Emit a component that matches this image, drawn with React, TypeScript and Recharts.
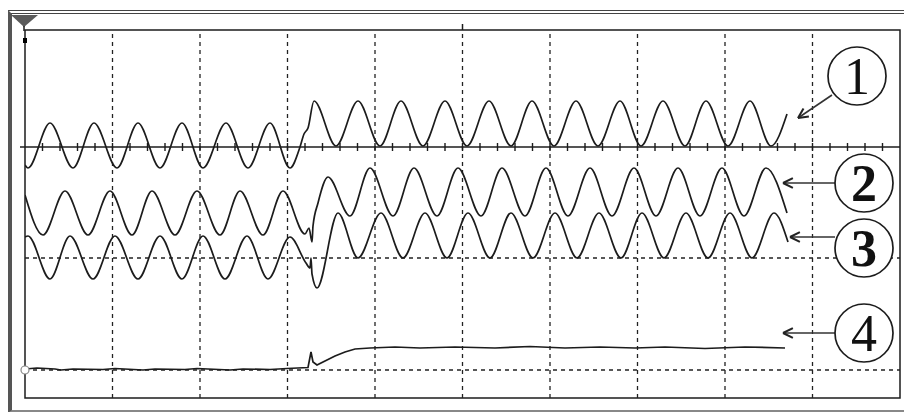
import {
  ComposedChart,
  Line,
  XAxis,
  YAxis,
  ReferenceLine,
  ReferenceArea,
  ReferenceDot,
} from "recharts";

// time axis in samples, amplitude in screen units above the bottom edge
const tMax = 875;
const yMax = 368;

// channel 1: current before and after the fault
const ch1: [number, number][] = [
  [0, 233], [3, 230], [25, 275], [48, 230], [69, 275], [92, 230], [113, 275],
  [135, 230], [157, 275], [178, 230], [201, 275], [223, 230], [245, 275],
  [265, 230], [275, 251], [279, 264], [283, 270], [289, 297], [311, 252],
  [333, 297], [355, 252], [376, 297], [398, 252], [420, 297], [442, 252],
  [464, 297], [486, 252], [507, 297], [529, 252], [551, 297], [573, 252],
  [595, 297], [616, 252], [638, 297], [660, 252], [681, 297], [703, 252],
  [725, 297], [746, 252], [762, 284],
];

// channel 2
const ch2: [number, number][] = [
  [0, 203], [18, 163], [40, 207], [63, 163], [85, 207], [107, 163], [127, 207],
  [150, 163], [172, 207], [195, 163], [215, 207], [238, 163], [258, 207],
  [280, 164], [284, 170], [287, 156], [288, 172], [293, 195], [303, 221],
  [325, 182], [345, 230], [368, 182], [389, 230], [412, 182], [433, 230],
  [456, 182], [477, 230], [500, 182], [521, 230], [543, 182], [565, 230],
  [587, 182], [609, 230], [631, 182], [653, 230], [675, 182], [697, 230],
  [719, 182], [741, 230], [762, 185],
];

// channel 3
const ch3: [number, number][] = [
  [0, 161], [3, 162], [25, 119], [45, 162], [68, 119], [90, 162], [113, 119],
  [135, 162], [157, 119], [178, 162], [200, 119], [222, 162], [243, 119],
  [265, 161], [281, 135], [285, 130], [286, 140], [287, 124], [292, 110],
  [313, 185], [333, 140], [356, 185], [378, 140], [400, 185], [422, 140],
  [443, 185], [465, 140], [486, 185], [508, 140], [530, 185], [552, 140],
  [574, 185], [596, 140], [617, 185], [639, 140], [661, 185], [683, 140],
  [705, 185], [727, 140], [749, 185], [763, 156],
];

// channel 4: slow quantity with a step
const ch4: [number, number][] = [
  [0, 29], [12, 30], [30, 29], [36, 28], [48, 29], [78, 28.5], [90, 29.5],
  [118, 28], [130, 29], [160, 28.5], [172, 29.5], [205, 28], [218, 29],
  [245, 28.5], [262, 29.5], [283, 30.5], [286, 46], [288, 36], [292, 33],
  [300, 37], [310, 42], [320, 46], [330, 49], [345, 50], [370, 51], [395, 50],
  [430, 51], [470, 50], [505, 51.5], [540, 50], [575, 51], [610, 50],
  [640, 51], [680, 49.5], [720, 51], [760, 50],
];

const gridT = [87.5, 175, 262.5, 350, 437.5, 525, 612.5, 700, 787.5];
const gridY = [28, 140];
const axisY = 251;
const minorT = Array.from({ length: 49 }, (_, i) => (i + 1) * 17.5);

// circled channel labels and their arrows
const labels = ["1", "2", "3", "4"];
const labelWeight = ["normal", "bold", "bold", "normal"];
const labelT = [832, 839, 839, 839];
const labelY = [322, 215, 150, 65];
const arrowTail: [number, number][] = [[807, 303], [810, 215], [810, 161], [810, 65]];
const arrowTip: [number, number][] = [[773, 280], [758, 215], [765, 161], [758, 65]];

const rows = (pts: [number, number][]) => pts.map(([t, v]) => ({ t, v }));

const ink = "#1c1c1c";

function headSegments(tail: [number, number], tip: [number, number]) {
  const dx = tail[0] - tip[0];
  const dy = tail[1] - tip[1];
  const len = Math.hypot(dx, dy);
  const ux = dx / len;
  const uy = dy / len;
  const a = (26 * Math.PI) / 180;
  const L = 11;
  return [a, -a].map((r) => {
    const cx = ux * Math.cos(r) - uy * Math.sin(r);
    const cy = ux * Math.sin(r) + uy * Math.cos(r);
    return [
      { x: tip[0], y: tip[1] },
      { x: tip[0] + cx * L, y: tip[1] + cy * L },
    ];
  });
}

export default function App() {
  return (
    <div style={{ position: "absolute", left: 0, top: 0, width: 904, height: 412, background: "#fff" }}>
      <div
        style={{
          position: "absolute",
          left: 8,
          top: 10,
          width: 910,
          height: 396,
          borderTop: "4px double #444",
          borderLeft: "4px solid #555",
          borderBottom: "3px solid #888",
        }}
      />
      <svg style={{ position: "absolute", left: 0, top: 0 }} width={904} height={412}>
        <polygon points="11,15 38,15 24,27" fill="#5a5a5a" />
        <line x1={24} y1={26} x2={24} y2={31} stroke={ink} strokeWidth={1.5} />
      </svg>
      <div style={{ position: "absolute", left: 0, top: 0 }}>
        <ComposedChart width={904} height={412} margin={{ top: 30, right: 4, bottom: 14, left: 25 }}>
          <XAxis dataKey="t" type="number" domain={[0, tMax]} allowDataOverflow hide />
          <YAxis type="number" domain={[0, yMax]} allowDataOverflow hide />

          {gridT.map((t) => (
            <ReferenceLine key={"gx" + t} x={t} stroke="#222" strokeWidth={1.3} strokeDasharray="4 4" />
          ))}
          {gridY.map((y) => (
            <ReferenceLine key={"gy" + y} y={y} stroke="#222" strokeWidth={1.3} strokeDasharray="4 4" />
          ))}
          <ReferenceArea x1={0} x2={tMax} y1={0} y2={yMax} fill="none" stroke={ink} strokeWidth={1.5} ifOverflow="visible" />
          <ReferenceLine
            segment={[{ x: -5, y: axisY }, { x: tMax, y: axisY }]}
            stroke={ink}
            strokeWidth={1.6}
            ifOverflow="visible"
          />
          {minorT.map((t) => (
            <ReferenceLine
              key={"mt" + t}
              segment={[{ x: t, y: axisY - 4 }, { x: t, y: axisY + 4 }]}
              stroke={ink}
              strokeWidth={1.4}
              ifOverflow="visible"
            />
          ))}
          <ReferenceLine
            segment={[{ x: tMax / 2, y: yMax }, { x: tMax / 2, y: yMax + 6 }]}
            stroke={ink}
            strokeWidth={1.5}
            ifOverflow="visible"
          />
          <ReferenceLine
            segment={[{ x: 0, y: yMax - 8 }, { x: 0, y: yMax - 13 }]}
            stroke="#000"
            strokeWidth={4}
            ifOverflow="visible"
          />
          <ReferenceDot x={0} y={gridY[0]} r={4} fill="#fff" stroke="#888" strokeWidth={1.2} ifOverflow="visible" />

          <Line data={rows(ch1)} dataKey="v" type="monotone" stroke={ink} strokeWidth={1.7} dot={false} isAnimationActive={false} />
          <Line data={rows(ch2)} dataKey="v" type="monotone" stroke={ink} strokeWidth={1.7} dot={false} isAnimationActive={false} />
          <Line data={rows(ch3)} dataKey="v" type="monotone" stroke={ink} strokeWidth={1.7} dot={false} isAnimationActive={false} />
          <Line data={rows(ch4)} dataKey="v" type="linear" stroke={ink} strokeWidth={1.7} dot={false} isAnimationActive={false} />

          {labels.map((lab, i) => (
            <ReferenceLine
              key={"as" + lab}
              segment={[
                { x: arrowTail[i][0], y: arrowTail[i][1] },
                { x: arrowTip[i][0], y: arrowTip[i][1] },
              ]}
              stroke="#333"
              strokeWidth={1.6}
              ifOverflow="visible"
            />
          ))}
          {labels.map((lab, i) =>
            headSegments(arrowTail[i], arrowTip[i]).map((seg, j) => (
              <ReferenceLine
                key={"ah" + lab + j}
                segment={seg}
                stroke="#222"
                strokeWidth={2}
                ifOverflow="visible"
              />
            ))
          )}
          {labels.map((lab, i) => (
            <ReferenceDot
              key={"lb" + lab}
              x={labelT[i]}
              y={labelY[i]}
              r={29}
              fill="#fff"
              stroke={ink}
              strokeWidth={1.7}
              ifOverflow="visible"
              label={{
                value: lab,
                position: "center",
                fontSize: 52,
                fontWeight: labelWeight[i],
                fontFamily: "Liberation Serif, serif",
                fill: "#111",
              }}
            />
          ))}
        </ComposedChart>
      </div>
    </div>
  );
}
